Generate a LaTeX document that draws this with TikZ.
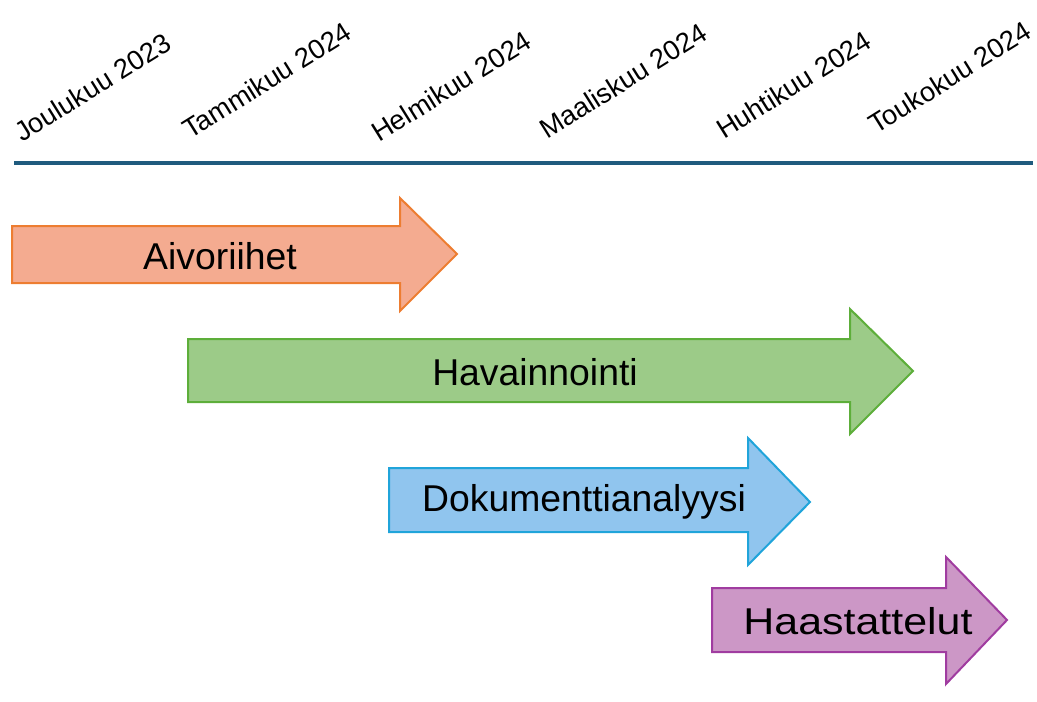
\documentclass[tikz,border=0pt]{standalone}
\usepackage{fontspec}
\setmainfont{Liberation Sans}
\begin{document}
\begin{tikzpicture}[x=0.75pt,y=-0.75pt,
  month/.style={rotate=32,anchor=base west,inner sep=0pt,font=\fontsize{20.5}{24}\selectfont},
  phase/.style={line width=1.5pt,line join=miter},
  plabel/.style={inner sep=0pt,font=\fontsize{28}{32}\selectfont}]
\useasboundingbox (0,0) rectangle (1037,702);
\definecolor{lineblue}{HTML}{1F5B7E}
\definecolor{orgline}{HTML}{ED7D31}\definecolor{orgfill}{HTML}{F4AB90}
\definecolor{grnline}{HTML}{5DAE3A}\definecolor{grnfill}{HTML}{9CCB88}
\definecolor{bluline}{HTML}{20A4DA}\definecolor{blufill}{HTML}{90C5EE}
\definecolor{purline}{HTML}{A03CA0}\definecolor{purfill}{HTML}{CC97C6}
% timeline
\draw[lineblue,line width=2.6pt] (14,163) -- (1033,163);
\node[month] (m1) at (22,143) {Joulukuu 2023};
\node[month] (m2) at (190,140) {Tammikuu 2024};
\node[month] (m3) at (379,143) {Helmikuu 2024};
\node[month] (m4) at (547,140) {Maaliskuu 2024};
\node[month] (m5) at (724,140) {Huhtikuu 2024};
\node[month] (m6) at (876,135) {Toukokuu 2024};
% arrows
\filldraw[phase,draw=orgline,fill=orgfill] (12,226) -- (400,226) -- (400,198) -- (457,254) -- (400,311) -- (400,283) -- (12,283) -- cycle;
\node[plabel] (a1) at (220,256) {Aivoriihet};
\filldraw[phase,draw=grnline,fill=grnfill] (188,339) -- (850,339) -- (850,309) -- (913,371) -- (850,434) -- (850,402) -- (188,402) -- cycle;
\node[plabel] (a2) at (535,372) {Havainnointi};
\filldraw[phase,draw=bluline,fill=blufill] (389,468) -- (748,468) -- (748,438) -- (810,502) -- (748,565) -- (748,532) -- (389,532) -- cycle;
\node[plabel] (a3) at (584,502) {Dokumenttianalyysi};
\filldraw[phase,draw=purline,fill=purfill] (712,588) -- (946,588) -- (946,557) -- (1007,620) -- (946,684) -- (946,652) -- (712,652) -- cycle;
\node[plabel,xscale=1.15] (a4) at (858,621) {Haastattelut};
\end{tikzpicture}
\end{document}
